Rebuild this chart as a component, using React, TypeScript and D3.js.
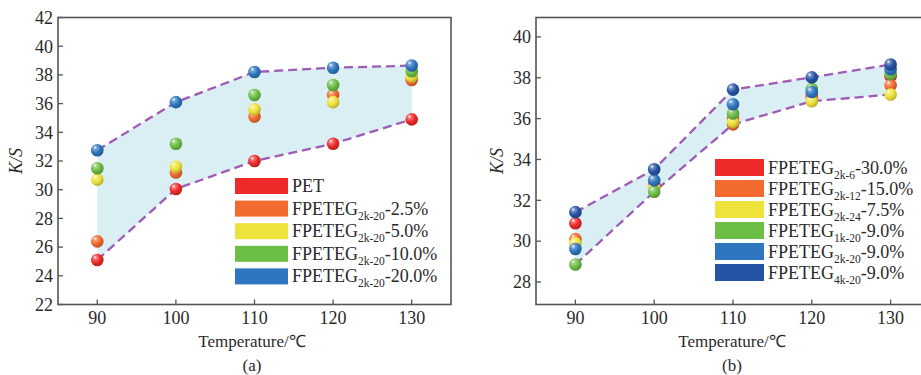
import React from "react";
import * as d3 from "d3";

const temps = [90, 100, 110, 120, 130];
const xTicks = [90, 100, 110, 120, 130];
const leftYTicks = [22, 24, 26, 28, 30, 32, 34, 36, 38, 40, 42];
const rightYTicks = [28, 30, 32, 34, 36, 38, 40];

// Panel (a)
const aPET = [25.1, 30.05, 32.0, 33.2, 34.9];
const aF25 = [26.4, 31.2, 35.1, 36.6, 37.65];
const aF50 = [30.7, 31.6, 35.6, 36.1, 37.9];
const aF100 = [31.5, 33.2, 36.6, 37.3, 38.25];
const aF200 = [32.75, 36.1, 38.2, 38.5, 38.65];

// Panel (b)
const b2k6 = [30.88, 32.75, 36.0, 37.15, 38.08];
const b2k12 = [30.1, 32.7, 35.72, 37.05, 37.63];
const b2k24 = [29.9, 32.6, 35.85, 36.85, 37.18];
const b1k20 = [28.86, 32.42, 36.25, 37.45, 38.18];
const b2k20 = [29.62, 32.98, 36.7, 37.3, 38.42];
const b4k20 = [31.42, 33.52, 37.42, 38.02, 38.65];

const colors = {
  red: "#ee2a2a",
  orange: "#f26a2e",
  yellow: "#efe23a",
  green: "#6dbe45",
  blue: "#2e76c0",
  navy: "#2654a4",
};

type Series = { key: string; color: string; base: string; sub: string; suffix: string; values: number[] };

const seriesA: Series[] = [
  { key: "a0", color: colors.red, base: "PET", sub: "", suffix: "", values: aPET },
  { key: "a1", color: colors.orange, base: "FPETEG", sub: "2k-20", suffix: "-2.5%", values: aF25 },
  { key: "a2", color: colors.yellow, base: "FPETEG", sub: "2k-20", suffix: "-5.0%", values: aF50 },
  { key: "a3", color: colors.green, base: "FPETEG", sub: "2k-20", suffix: "-10.0%", values: aF100 },
  { key: "a4", color: colors.blue, base: "FPETEG", sub: "2k-20", suffix: "-20.0%", values: aF200 },
];

const seriesB: Series[] = [
  { key: "b0", color: colors.red, base: "FPETEG", sub: "2k-6", suffix: "-30.0%", values: b2k6 },
  { key: "b1", color: colors.orange, base: "FPETEG", sub: "2k-12", suffix: "-15.0%", values: b2k12 },
  { key: "b2", color: colors.yellow, base: "FPETEG", sub: "2k-24", suffix: "-7.5%", values: b2k24 },
  { key: "b3", color: colors.green, base: "FPETEG", sub: "1k-20", suffix: "-9.0%", values: b1k20 },
  { key: "b4", color: colors.blue, base: "FPETEG", sub: "2k-20", suffix: "-9.0%", values: b2k20 },
  { key: "b5", color: colors.navy, base: "FPETEG", sub: "4k-20", suffix: "-9.0%", values: b4k20 },
];

const FONT = "'Liberation Serif', 'Times New Roman', serif";
const TXT = "#2a2a2a";
const AXIS = "#555";

type PanelProps = {
  id: string;
  x0: number;
  x1: number;
  y0: number;
  y1: number;
  yDomain: [number, number];
  yTicks: number[];
  series: Series[];
  legendX: number;
  legendY: number;
  legendStep: number;
  swW: number;
  swH: number;
  ylabelX: number;
  caption: string;
  captionX: number;
};

function Panel(p: PanelProps) {
  const x = d3.scaleLinear().domain([85, 135]).range([p.x0, p.x1]);
  const y = d3.scaleLinear().domain(p.yDomain).range([p.y1, p.y0]);
  const upper = temps.map((_, i) => d3.max(p.series, (s) => s.values[i]) as number);
  const lower = temps.map((_, i) => d3.min(p.series, (s) => s.values[i]) as number);
  const area = d3
    .area<number>()
    .x((_, i) => x(temps[i]))
    .y0((_, i) => y(lower[i]))
    .y1((d) => y(d));
  const line = d3
    .line<number>()
    .x((_, i) => x(temps[i]))
    .y((d) => y(d));
  const clipId = `clip-${p.id}`;
  return (
    <g>
      <defs>
        <clipPath id={clipId}>
          <rect x={p.x0} y={p.y0} width={p.x1 - p.x0} height={p.y1 - p.y0} />
        </clipPath>
        {p.series.map((s) => (
          <radialGradient key={s.key} id={`g-${p.id}-${s.key}`} cx="38%" cy="35%" r="65%" fx="32%" fy="28%">
            <stop offset="0%" stopColor="#ffffff" />
            <stop offset="22%" stopColor={d3.interpolateRgb(s.color, "#ffffff")(0.35)} />
            <stop offset="60%" stopColor={s.color} />
            <stop offset="100%" stopColor={d3.color(s.color)!.darker(0.7).formatHex()} />
          </radialGradient>
        ))}
      </defs>
      <path d={area(upper) || ""} fill="#daeff3" />
      <path d={line(upper) || ""} fill="none" stroke="#9e5ab5" strokeWidth={2.3} strokeDasharray="9,5" />
      <path d={line(lower) || ""} fill="none" stroke="#9e5ab5" strokeWidth={2.3} strokeDasharray="9,5" />
      <g clipPath={`url(#${clipId})`}>
        {p.series.map((s) =>
          s.values.map((v, i) => (
            <circle key={s.key + i} cx={x(temps[i])} cy={y(v)} r={6.3} fill={`url(#g-${p.id}-${s.key})`} />
          ))
        )}
      </g>
      {/* frame */}
      <rect x={p.x0} y={p.y0} width={p.x1 - p.x0} height={p.y1 - p.y0} fill="none" stroke={AXIS} strokeWidth={1.6} />
      {/* y ticks */}
      {p.yTicks.map((t) => (
        <g key={"y" + t}>
          <line x1={p.x0} x2={p.x0 + 5} y1={y(t)} y2={y(t)} stroke={AXIS} strokeWidth={1.3} />
          <text x={p.x0 - 5} y={y(t)} dy="0.35em" textAnchor="end" fontSize={18} fontFamily={FONT} fill={TXT}>
            {t}
          </text>
        </g>
      ))}
      {xTicks.map((t) => (
        <g key={"x" + t}>
          <line x1={x(t)} x2={x(t)} y1={p.y1} y2={p.y1 - 5} stroke={AXIS} strokeWidth={1.3} />
          <text x={x(t)} y={324} textAnchor="middle" fontSize={18} fontFamily={FONT} fill={TXT}>
            {t}
          </text>
        </g>
      ))}
      <text
        transform={`translate(${p.ylabelX},${(p.y0 + p.y1) / 2}) rotate(-90)`}
        textAnchor="middle"
        dy="0.35em"
        fontSize={18}
        fontStyle="italic"
        fontFamily={FONT}
        fill={TXT}
      >
        K/S
      </text>
      <text x={p.captionX} y={347} textAnchor="middle" fontSize={17} fontFamily={FONT} fill={TXT}>
        Temperature/℃
      </text>
      <text x={p.captionX} y={371} textAnchor="middle" fontSize={17} fontFamily={FONT} fill={TXT}>
        {p.caption}
      </text>
      {/* legend */}
      {p.series.map((s, i) => {
        const cy = p.legendY + i * p.legendStep;
        return (
          <g key={"l" + s.key}>
            <rect x={p.legendX} y={cy - p.swH / 2} width={p.swW} height={p.swH} fill={s.color} />
            <text x={p.legendX + p.swW + 4} y={cy + 6} fontSize={18} fontFamily={FONT} fill={TXT}>
              {s.base}
              {s.sub ? (
                <tspan fontSize={11.5} dy={5}>
                  {s.sub}
                </tspan>
              ) : null}
              {s.suffix ? <tspan dy={s.sub ? -5 : 0}>{s.suffix}</tspan> : null}
            </text>
          </g>
        );
      })}
    </g>
  );
}

export default function App() {
  return (
    <svg
      width={921}
      height={375}
      viewBox="0 0 921 375"
      style={{ position: "absolute", left: 0, top: 0, background: "#fff" }}
    >
      <rect width={921} height={375} fill="#fff" />
      <Panel
        id="a"
        x0={58}
        x1={451}
        y0={17.5}
        y1={304.5}
        yDomain={[22, 42]}
        yTicks={leftYTicks}
        series={seriesA}
        legendX={235}
        legendY={186}
        legendStep={22.6}
        swW={53}
        swH={16}
        ylabelX={16}
        caption="(a)"
        captionX={252}
      />
      <Panel
        id="b"
        x0={536}
        x1={930}
        y0={17.5}
        y1={304.5}
        yDomain={[26.9, 40.95]}
        yTicks={rightYTicks}
        series={seriesB}
        legendX={715}
        legendY={167.5}
        legendStep={21}
        swW={49}
        swH={17}
        ylabelX={497}
        caption="(b)"
        captionX={732}
      />
    </svg>
  );
}
